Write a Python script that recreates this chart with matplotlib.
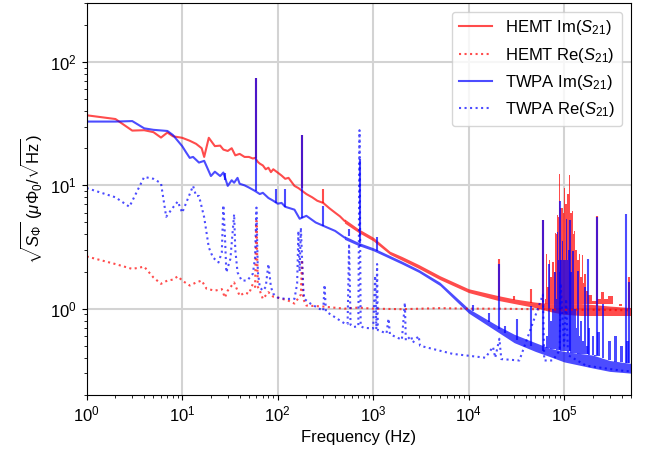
import numpy as np
import matplotlib
matplotlib.use("Agg")
import matplotlib.pyplot as plt

plt.rcParams['font.family'] = ['Liberation Sans', 'DejaVu Sans']
plt.rcParams['mathtext.fontset'] = 'custom'
plt.rcParams['mathtext.rm'] = 'Liberation Sans'
plt.rcParams['mathtext.it'] = 'Liberation Sans:italic'

# ---- HEMT Im(S21): low-frequency trace, then noise band
hemt_im_f = [1, 2, 3, 4, 5, 6, 7, 8, 10, 12, 14, 16, 17, 19, 22, 25, 27, 30, 33, 36, 40, 45, 50, 55,
             58, 62, 65, 70, 75, 80, 85, 90, 100, 110, 120, 130, 150, 165, 200, 230, 260, 300, 350,
             400, 450, 500]
hemt_im_v = [37, 34.5, 27.8, 28, 27, 24.4, 26.8, 25, 24.3, 23, 21.7, 20, 17, 24.3, 20.8, 21, 19.5,
             19, 20, 17.5, 18, 17, 17, 16.5, 16.7, 15.5, 15, 14.5, 13.5, 13.9, 12.8, 13.5, 12.7, 12,
             11.3, 11.5, 9.9, 9.5, 8.5, 8.0, 7.5, 7.2, 6.5, 6.0, 5.6, 5.16]
hemt_band_f = [500, 700, 1000, 1500, 2000, 3000, 5000, 1e4, 2e4, 3e4, 5e4, 7e4, 1e5, 1.5e5, 2e5, 3e5, 5e5]
hemt_band_lo = [4.95, 4.15, 3.55, 2.75, 2.47, 2.12, 1.72, 1.35, 1.17, 1.1, 1.02, 0.95, 0.9, 0.88, 0.88, 0.88, 0.88]
hemt_band_hi = [5.35, 4.45, 3.8, 2.92, 2.65, 2.28, 1.85, 1.45, 1.28, 1.2, 1.13, 1.1, 1.1, 1.1, 1.08, 1.05, 1.02]
# dense cluster of lines around 100 kHz (tops of the red columns)
hemt_hump_f = [6.2e4, 6.4e4, 6.6e4, 6.8e4, 7e4, 7.3e4, 7.6e4, 7.9e4, 8.1e4, 8.4e4, 8.6e4, 8.8e4, 9.0e4,
               9.3e4, 9.6e4, 9.8e4, 1.01e5, 1.05e5, 1.1e5, 1.14e5, 1.18e5, 1.22e5, 1.26e5, 1.29e5,
               1.33e5, 1.36e5, 1.4e5, 1.45e5, 1.5e5, 1.55e5, 1.6e5, 1.64e5, 1.75e5, 1.85e5, 2.09e5,
               2.3e5, 2.55e5, 2.75e5, 3.0e5, 3.5e5, 4e5]
hemt_hump_v = [1.1, 1.2, 2.8, 1.5, 2.5, 1.8, 2.4, 2.0, 4.1, 4.0, 5.8, 5.5, 12.3, 6.5, 6.6, 6.0, 9.6, 7.0,
               8.5, 12.2, 6.0, 6.2, 4.0, 4.3, 3.0, 3.0, 2.5, 2.8, 1.8, 2.7, 1.6, 1.9, 1.4, 1.3, 1.16,
               1.2, 1.36, 1.2, 1.26, 1.09, 1.05]
hemt_spike_f = [60, 180, 300, 2.1e4, 3e4, 4.5e4, 6e4, 2.2e5, 4.8e5]
hemt_spike_lo = [16.7, 9.5, 7.2, 1.25, 1.18, 1.12, 1.05, 1.05, 1.0]
hemt_spike_hi = [74.6, 25.5, 9.4, 2.54, 1.27, 1.45, 5.2, 5.6, 1.8]

# ---- HEMT Re(S21)
hemt_re_f = [1, 2, 3, 4, 5, 6, 7, 8, 9, 10, 12, 14, 16, 18, 22, 26, 28, 30, 35, 40, 45, 50, 55, 58, 60,
             62, 65, 70, 80, 90, 100, 130, 150, 175, 180, 185, 200, 300, 500, 700, 1000, 2000, 5000,
             1e4, 2e4, 5e4, 1e5, 2e5, 5e5]
hemt_re_v = [2.65, 2.3, 2.1, 2.19, 1.79, 1.59, 1.69, 1.72, 1.83, 1.69, 1.54, 1.63, 1.69, 1.45, 1.4,
             1.44, 1.23, 1.4, 1.63, 1.27, 1.35, 1.32, 1.59, 1.5, 5.16, 1.5, 1.4, 1.2, 1.36, 1.25, 1.23,
             1.16, 1.1, 1.3, 2.5, 1.2, 1.06, 1.04, 1.0, 1.02, 1.0, 0.99, 1.01, 1.0, 1.0, 0.99, 0.98,
             0.98, 0.97]

# ---- TWPA Im(S21)
twpa_im_f = [1, 2, 3, 4, 5, 7, 8, 10, 11, 12, 13, 15, 17, 20, 22, 25, 27, 30, 33, 35, 38, 40, 45, 50,
             58, 65, 70, 80, 90, 100, 110, 120, 150, 170, 200, 250, 300, 400, 500]
twpa_im_v = [32.9, 32.9, 33.2, 29, 28.2, 27.6, 25.6, 20.8, 18.5, 16.7, 17, 15.3, 15.8, 11.9, 12.9, 11.9,
             12.7, 9.9, 11, 10.5, 11.5, 10.3, 10, 9.6, 9.0, 8.5, 8.7, 7.9, 7.5, 7.1, 7.2, 6.7, 6.35,
             5.36, 5.66, 5.0, 4.7, 4.27, 3.78]
twpa_band_f = [500, 700, 1000, 2000, 3000, 5000, 1e4, 2e4, 3e4, 5e4, 7e4, 1e5, 2e5, 3e5, 5e5]
twpa_band_lo = [3.65, 3.25, 2.95, 2.3, 1.97, 1.54, 0.92, 0.65, 0.53, 0.45, 0.41, 0.37, 0.33, 0.31, 0.3]
twpa_band_hi = [3.9, 3.45, 3.12, 2.43, 2.08, 1.64, 1.0, 0.73, 0.62, 0.53, 0.48, 0.45, 0.42, 0.38, 0.36]
# dense cluster of lines around 100 kHz (tops of the blue columns, and the band top below them)
twpa_hump_f = [6.5e4, 7e4, 7.3e4, 7.5e4, 8e4, 8.3e4, 8.6e4, 8.8e4, 9e4, 9.3e4, 9.6e4, 9.9e4, 1.02e5,
               1.07e5, 1.1e5, 1.12e5, 1.18e5, 1.24e5, 1.27e5, 1.3e5, 1.35e5, 1.4e5, 1.45e5, 1.5e5,
               1.58e5, 1.65e5, 1.72e5, 1.8e5, 1.9e5, 2e5, 2.1e5, 2.3e5, 2.45e5, 2.6e5, 2.7e5, 3e5,
               3.2e5, 3.4e5, 3.7e5, 4e5, 4.3e5, 4.6e5, 5e5]
twpa_hump_v = [0.6, 2.3, 0.8, 1.0, 2.0, 1.2, 4.15, 2.5, 2.0, 2.5, 3.55, 2.5, 2.5, 5.3, 2.5, 3.0, 2.0,
               2.95, 1.5, 1.0, 0.7, 2.03, 0.6, 0.8, 0.55, 1.49, 0.5, 0.7, 0.42, 0.6, 0.42, 0.65, 0.4,
               1.09, 0.39, 0.55, 0.38, 0.6, 0.37, 0.5, 0.36, 0.55, 0.36]
twpa_hump_lo = [0.48, 0.48, 0.47, 0.47, 0.47, 0.46, 0.46, 0.46, 0.46, 0.45, 0.45, 0.45, 0.45, 0.45,
                0.45, 0.45, 0.44, 0.44, 0.44, 0.44, 0.44, 0.43, 0.43, 0.43, 0.43, 0.43, 0.43, 0.42,
                0.42, 0.42, 0.41, 0.41, 0.40, 0.40, 0.39, 0.38, 0.38, 0.37, 0.37, 0.37, 0.36, 0.36,
                0.36]
twpa_spike_f = [28, 60, 95, 118, 180, 300, 558, 720, 1100, 1.1e4, 1.65e4, 2.1e4, 2.4e4, 3.2e4, 4.5e4,
                6e4, 9e4, 1.14e5, 1.78e5, 2.2e5, 4.4e5, 4.8e5]
twpa_spike_lo = [11, 9.0, 7.2, 6.7, 5.4, 4.7, 3.9, 3.4, 2.95, 0.95, 0.78, 0.69, 0.63, 0.56, 0.5, 0.45,
                 0.46, 0.45, 0.43, 0.42, 0.36, 0.36]
twpa_spike_hi = [12.7, 74.6, 9.4, 9.4, 25.5, 6.8, 4.45, 16.5, 3.78, 1.08, 0.92, 2.3, 0.73, 0.83, 1.06,
                 5.2, 7.5, 5.2, 2.54, 5.5, 5.9, 1.63]

# ---- TWPA Re(S21)
twpa_re_f = [1, 2, 2.8, 4, 5, 6, 6.8, 8, 9, 10, 12, 13, 14, 15, 17, 19, 21, 24, 26, 27, 28, 29, 32, 35,
             36, 38, 42, 48, 55, 58, 60, 62, 65, 70, 75, 80, 85, 90, 100, 120, 150, 160, 165, 170, 175,
             185, 190, 220, 260, 300, 310, 320, 400, 500, 540, 560, 580, 620, 700, 720, 740, 800,
             1000, 1050, 1080, 1100, 1120, 1380, 1450, 1500, 2000, 2150, 2200, 2500, 2600, 3000,
             3100, 6800, 1.5e4, 1.8e4, 1.9e4, 2.1e4, 2.2e4, 3.4e4, 6e4, 6.2e4, 7.6e4, 9e4, 9.2e4,
             1e5, 1.05e5, 1.1e5, 1.7e5, 3.9e5, 5e5]
twpa_re_v = [9.5, 8, 6.7, 11.7, 11.3, 10.4, 5.56, 6.6, 7.4, 6.0, 8.5, 9.9, 8.2, 8.2, 5.5, 3.14, 2.6,
             2.37, 2.86, 6.9, 4, 1.97, 2.54, 5.83, 3, 1.97, 1.69, 1.69, 1.92, 2.6, 6.6, 2, 1.49, 1.4,
             1.5, 2.3, 1.5, 1.32, 1.23, 1.2, 1.2, 1.6, 4.27, 2.0, 4.55, 1.5, 1.2, 1.1, 1.02, 0.96,
             1.56, 0.95, 0.85, 0.76, 0.75, 3.36, 0.74, 0.71, 0.72, 28, 0.72, 0.7, 0.69, 1.85, 0.68,
             2.3, 0.67, 0.63, 0.83, 0.62, 0.56, 1.12, 0.55, 0.6, 0.53, 0.6, 0.5, 0.43, 0.40, 0.49,
             0.4, 0.57, 0.39, 0.38, 1.3, 0.38, 0.38, 0.46, 1.6, 0.5, 1.2, 0.42, 0.345, 0.315, 0.31]

red = (1.0, 0.0, 0.0)
blue = (0.0, 0.0, 1.0)
alpha = 0.7

fig = plt.figure(figsize=(6.47, 4.57), dpi=100)
ax = fig.add_axes([0.134, 0.136, 0.841, 0.857])

# HEMT
ax.plot(hemt_im_f, hemt_im_v, color=red, alpha=alpha, lw=1.5, label='HEMT Im($S_{21}$)')
ax.fill_between(hemt_band_f, hemt_band_lo, hemt_band_hi, color=red, alpha=alpha, lw=0)
ax.fill_between(hemt_hump_f, 1.1, hemt_hump_v, step='mid', color=red, alpha=alpha, lw=0)
ax.vlines(hemt_spike_f, hemt_spike_lo, hemt_spike_hi, color=red, alpha=alpha, lw=1.5)
ax.plot(hemt_re_f, hemt_re_v, color=red, alpha=alpha, lw=1.5, ls=':', label='HEMT Re($S_{21}$)')

# TWPA
ax.plot(twpa_im_f, twpa_im_v, color=blue, alpha=alpha, lw=1.5, label='TWPA Im($S_{21}$)')
ax.fill_between(twpa_band_f, twpa_band_lo, twpa_band_hi, color=blue, alpha=alpha, lw=0)
ax.fill_between(twpa_hump_f, twpa_hump_lo, twpa_hump_v, step='mid', color=blue, alpha=alpha, lw=0)
ax.vlines(twpa_spike_f, twpa_spike_lo, twpa_spike_hi, color=blue, alpha=alpha, lw=1.5)
ax.plot(twpa_re_f, twpa_re_v, color=blue, alpha=alpha, lw=1.5, ls=':', label='TWPA Re($S_{21}$)')

ax.set_xscale('log')
ax.set_yscale('log')
ax.set_xlim(1, 5e5)
ax.set_ylim(0.2, 300)
ax.grid(True, which='major', color='#d3d3d3', lw=1.5)
ax.set_axisbelow(True)
ax.tick_params(labelsize=12)
ax.set_xlabel('Frequency (Hz)', fontsize=12)
ax.set_ylabel(r'$\sqrt{S_\Phi}$ ($\mu\Phi_0/\sqrt{\mathrm{Hz}}$)', fontsize=12)
ax.legend(loc='upper right', fontsize=12, edgecolor='#cccccc', framealpha=0.8)

fig.savefig('out.png', dpi=100)
